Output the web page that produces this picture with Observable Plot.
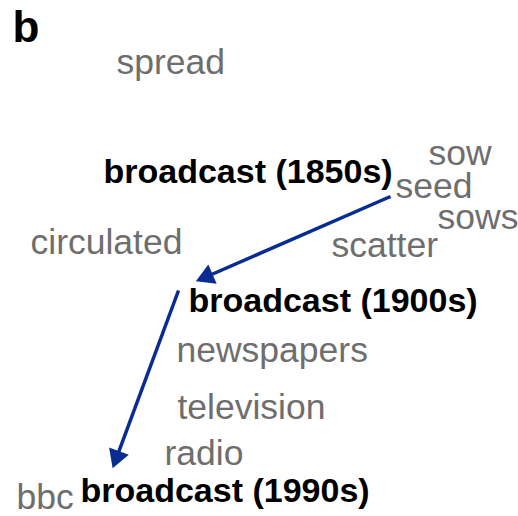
<!DOCTYPE html>
<html>
<head>
<meta charset="utf-8">
<script src="https://cdn.jsdelivr.net/npm/d3@7"></script>
<script src="https://cdn.jsdelivr.net/npm/@observablehq/plot@0.6"></script>
<style>
  html, body { margin: 0; padding: 0; background: #fff; }
  #chart svg { display: block; }
</style>
</head>
<body>
<div id="chart"></div>
<script>
// Neighbour words (gray) in the 2D embedding space
const neighborWords = ["spread", "sow", "seed", "sows", "circulated", "scatter", "newspapers", "television", "radio", "bbc"];
const neighborX = [2.32, 8.56, 7.90, 8.74, 0.60, 6.62, 3.52, 3.54, 3.28, 0.32];
const neighborY = [9.08, 7.26, 6.60, 5.98, 5.48, 5.42, 3.32, 2.18, 1.26, 0.38];

// Target word across decades (bold)
const targetLabels = ["broadcast (1850s)", "broadcast (1900s)", "broadcast (1990s)"];
const targetX = [2.06, 3.76, 1.60];
const targetY = [6.88, 4.30, 0.50];

// Trajectory arrows
const arrowX1 = [7.80, 3.56];
const arrowY1 = [6.40, 4.52];
const arrowX2 = [3.90, 2.24];
const arrowY2 = [4.70, 0.96];

const neighbors = neighborWords.map((w, i) => ({word: w, x: neighborX[i], y: neighborY[i]}));
const targets = targetLabels.map((w, i) => ({word: w, x: targetX[i], y: targetY[i]}));
const headOffset = 0.25; // distance (data units) from tip to triangle centre
const arrows = arrowX1.map((d, i) => {
  const dx = arrowX2[i] - d, dy = arrowY2[i] - arrowY1[i];
  const len = Math.hypot(dx, dy);
  return {
    x1: d, y1: arrowY1[i],
    hx: arrowX2[i] - dx / len * headOffset,
    hy: arrowY2[i] - dy / len * headOffset,
    angle: Math.atan2(dx, dy) * 180 / Math.PI
  };
});

const font = "'Liberation Sans', Arial, Helvetica, sans-serif";
const blue = "#0a2c92";

const chart = Plot.plot({
  width: 518,
  height: 516,
  margin: 0,
  x: {domain: [0, 10.36], axis: null},
  y: {domain: [0, 10.32], axis: null},
  style: {fontFamily: font, background: "#fff"},
  marks: [
    Plot.text(["b"], {frameAnchor: "top-left", dx: 12, dy: 10, fontSize: 44, fontWeight: "bold", fill: "#000", textAnchor: "start", lineAnchor: "top"}),
    Plot.text(neighbors, {x: "x", y: "y", text: "word", textAnchor: "start", fontSize: 35.5, fill: "#6e6e6e"}),
    Plot.link(arrows, {x1: "x1", y1: "y1", x2: "hx", y2: "hy", stroke: blue, strokeWidth: 3.5}),
    Plot.dot(arrows, {x: "hx", y: "hy", symbol: "triangle", r: 7.8, rotate: "angle", fill: blue, stroke: "none"}),
    Plot.text(targets, {x: "x", y: "y", text: "word", textAnchor: "start", fontSize: 34, fontWeight: "bold", fill: "#000"})
  ]
});
document.getElementById("chart").append(chart);
</script>
</body>
</html>
